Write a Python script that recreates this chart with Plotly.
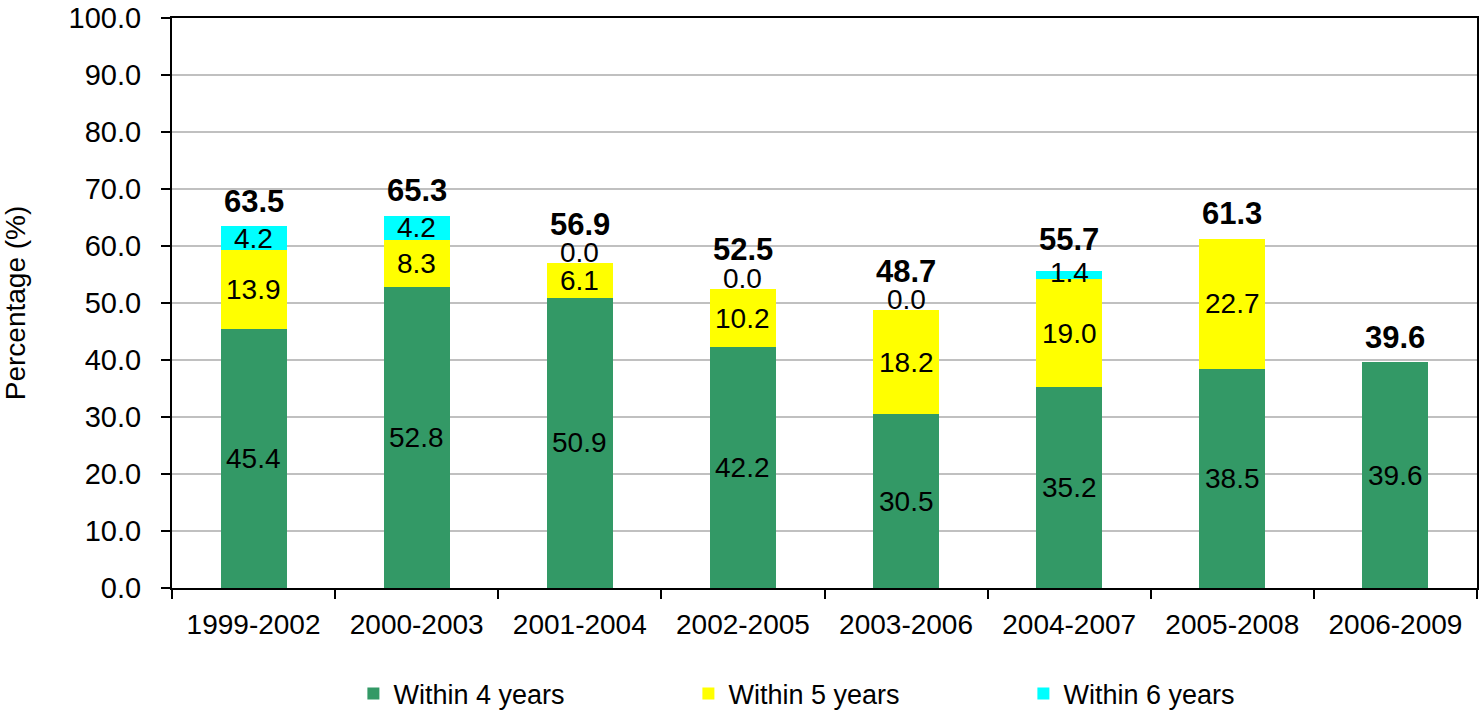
import plotly.graph_objects as go

periods = ["1999-2002", "2000-2003", "2001-2004", "2002-2005",
           "2003-2006", "2004-2007", "2005-2008", "2006-2009"]
within4 = [45.4, 52.8, 50.9, 42.2, 30.5, 35.2, 38.5, 39.6]
within5 = [13.9, 8.3, 6.1, 10.2, 18.2, 19.0, 22.7, None]
within6 = [4.2, 4.2, 0.0, 0.0, 0.0, 1.4, None, None]
totals = [63.5, 65.3, 56.9, 52.5, 48.7, 55.7, 61.3, 39.6]

series = [("Within 4 years", within4, "#339966"),
          ("Within 5 years", within5, "#FFFF00"),
          ("Within 6 years", within6, "#00FFFF")]

FONT = "Liberation Sans, Arial, sans-serif"
LABEL_SIZE = 28
fig = go.Figure()
for name, vals, col in series:
    fig.add_trace(go.Bar(
        x=periods, y=[v if v is not None else 0 for v in vals], name=name,
        marker=dict(color=col, line=dict(width=0)),
        hoverinfo="skip"))

px_per_unit = 572 / 100
annotations = []
bases = [0.0] * len(periods)
for name, vals, col in series:
    for i, v in enumerate(vals):
        if v is None:
            continue
        if v == 0:
            pos = dict(y=bases[i], yanchor="bottom", yshift=-7)
        elif v * px_per_unit < 15:
            pos = dict(y=bases[i] + v, yanchor="middle", yshift=-1)
        else:
            pos = dict(y=bases[i] + v / 2, yanchor="middle")
        annotations.append(dict(
            x=periods[i], text=f"{v:.1f}", showarrow=False,
            font=dict(family=FONT, size=LABEL_SIZE, color="black"), **pos))
        bases[i] += v

for i, t in enumerate(totals):
    c6 = within6[i]
    if c6 is None:
        shift = 25
    else:
        shift = max(25, 39 - c6 * px_per_unit)
    annotations.append(dict(
        x=periods[i], y=t, text=f"<b>{t:.1f}</b>", showarrow=False,
        yanchor="middle", yshift=shift,
        font=dict(family=FONT, size=31, color="black")))

fig.update_layout(
    barmode="stack", bargap=0.595,
    width=1480, height=721,
    margin=dict(l=172, r=3, t=18, b=131),
    plot_bgcolor="white", paper_bgcolor="white",
    font=dict(family=FONT, size=LABEL_SIZE, color="black"),
    annotations=annotations,
    showlegend=True,
    legend=dict(orientation="h", x=0.139, xanchor="left", y=-0.143,
                yanchor="top", entrywidth=290, traceorder="normal",
                font=dict(family=FONT, size=27, color="black"),
                itemsizing="constant"),
    xaxis=dict(showline=True, linecolor="black", linewidth=2, mirror=True,
               ticks="outside", tickson="boundaries", ticklen=9,
               tickwidth=2, tickcolor="black", showgrid=False,
               automargin=False, ticklabelstandoff=10,
               ticklabeloverflow="allow",
               tickfont=dict(family=FONT, size=28)),
    yaxis=dict(range=[0, 100], dtick=10, tickformat=".1f",
               showline=True, linecolor="black", linewidth=2, mirror=True,
               ticks="outside", ticklen=9, tickwidth=2, tickcolor="black",
               showgrid=True, gridcolor="#C0C0C0", gridwidth=2,
               zeroline=False, automargin=False, ticklabelstandoff=14,
               ticklabeloverflow="allow",
               tickfont=dict(family=FONT, size=29),
               title=dict(text="Percentage (%)",
                          font=dict(family=FONT, size=28), standoff=35)),
)

fig.write_html(
    "out.html",
    config={"displayModeBar": False},
    post_script="document.body.style.margin='0';document.body.style.overflow='hidden';")
